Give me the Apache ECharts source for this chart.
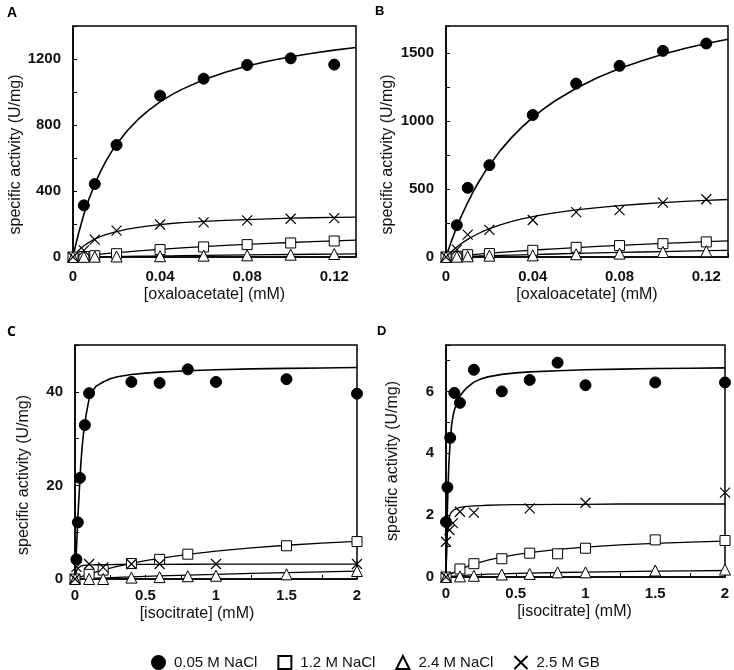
<!DOCTYPE html>
<html><head><meta charset="utf-8">
<script src="https://cdn.jsdelivr.net/npm/echarts@6/dist/echarts.min.js"></script>
<style>html,body{margin:0;padding:0;background:#fff}#c{width:734px;height:670px}</style>
</head><body><div id="c"></div>
<script>
// ---------- series names ----------
const seriesNames = ['0.05 M NaCl', '1.2 M NaCl', '2.4 M NaCl', '2.5 M GB'];

// ---------- Panel A (oxaloacetate) measured points ----------
const A_x = [0, 0.005, 0.01, 0.02, 0.04, 0.06, 0.08, 0.1, 0.12];
const A_circle = [null, 313, 442, 679, 978, 1081, 1164, 1204, 1166];
const A_square = [0, 3, 8, 20, 45, 61, 75, 85, 97];
const A_triangle = [0, 1, 2, 3, 5, 8, 10, 14, 18];
const A_cross = [0, 40, 105, 160, 197, 210, 222, 232, 236];
// Panel A fitted curves
const A_curveX = [0, 0.001, 0.0025, 0.005, 0.0075, 0.01, 0.0125, 0.015, 0.0175, 0.02, 0.025, 0.03, 0.035, 0.04, 0.045, 0.05, 0.06, 0.07, 0.08, 0.09, 0.1, 0.11, 0.12, 0.13];
const A_curveCircle = [0, 60, 141, 259, 357, 442, 514, 578, 634, 683, 767, 835, 892, 940, 981, 1016, 1074, 1120, 1157, 1188, 1214, 1235, 1254, 1270];
const A_curveSquare = [0, 1.5, 3.6, 7.1, 10.5, 13.8, 16.9, 20, 23, 25.9, 31.4, 36.7, 41.6, 46.3, 50.8, 55, 62.9, 70, 76.5, 82.5, 88, 93, 97.8, 102];
const A_curveTriangle = [0, 0.15, 0.4, 0.8, 1.2, 1.6, 2, 2.4, 2.8, 3.2, 4, 4.8, 5.6, 6.4, 7.2, 8, 9.5, 11, 12.5, 14, 15.3, 16.7, 18, 19.5];
const A_curveCross = [0, 17, 39, 68, 90, 108, 123, 135, 145, 154, 169, 180, 189, 196, 203, 208, 216, 222, 227, 231, 235, 238, 240, 242];

// ---------- Panel B (oxaloacetate) ----------
const B_x = [0, 0.005, 0.01, 0.02, 0.04, 0.06, 0.08, 0.1, 0.12];
const B_circle = [null, 234, 509, 676, 1045, 1276, 1407, 1517, 1571];
const B_square = [0, 5, 17, 25, 49, 71, 84, 98, 111];
const B_triangle = [0, 2, 5, 10, 12, 20, 25, 37, 42];
const B_cross = [0, 54, 165, 200, 272, 330, 345, 400, 425];
const B_curveX = [0, 0.001, 0.0025, 0.005, 0.0075, 0.01, 0.0125, 0.015, 0.0175, 0.02, 0.025, 0.03, 0.035, 0.04, 0.045, 0.05, 0.06, 0.07, 0.08, 0.09, 0.1, 0.11, 0.12, 0.13];
const B_curveCircle = [0, 48, 117, 222, 316, 401, 479, 550, 616, 676, 783, 875, 956, 1027, 1090, 1146, 1242, 1321, 1387, 1443, 1492, 1534, 1571, 1603];
const B_curveSquare = [0, 1.5, 3.7, 7.3, 10.8, 14.3, 17.6, 20.9, 24.1, 27.3, 33.3, 39.1, 44.7, 50, 55.1, 60, 69.2, 77.8, 85.7, 93.1, 100, 106.5, 112.5, 118.2];
const B_curveTriangle = [0, 0.5, 1.2, 2.5, 3.7, 4.9, 6.1, 7.2, 8.4, 9.5, 11.8, 14, 16.1, 18.2, 20.2, 22.2, 26.1, 29.8, 33.3, 36.7, 40, 43.1, 46.2, 49.1];
const B_curveCross = [0, 17, 40, 74, 104, 130, 153, 173, 192, 208, 236, 260, 280, 297, 312, 325, 347, 364, 378, 390, 400, 409, 416, 423];

// ---------- Panel C (isocitrate) ----------
const C_circleX = [0.01, 0.02, 0.035, 0.07, 0.1, 0.4, 0.6, 0.8, 1, 1.5, 2];
const C_circle = [4.2, 12.1, 21.6, 32.9, 39.7, 42.1, 41.9, 44.8, 42.1, 42.7, 39.6];
const C_squareX = [0, 0.1, 0.2, 0.4, 0.6, 0.8, 1.5, 2];
const C_square = [0, 1.0, 1.9, 3.3, 4.2, 5.3, 7.1, 8.0];
const C_triangleX = [0, 0.1, 0.2, 0.4, 0.6, 0.8, 1, 1.5, 2];
const C_triangle = [0, 0, 0, 0.3, 0.4, 0.6, 0.7, 1.0, 1.7];
const C_crossX = [0, 0.01, 0.1, 0.2, 0.4, 0.6, 1, 2];
const C_cross = [0, 2.6, 3.2, 2.5, 3.2, 3.2, 3.2, 3.2];
const C_curveX = [0, 0.005, 0.01, 0.015, 0.02, 0.03, 0.04, 0.05, 0.06, 0.07, 0.08, 0.1, 0.125, 0.15, 0.2, 0.25, 0.3, 0.4, 0.5, 0.6, 0.8, 1, 1.25, 1.5, 1.75, 2];
const C_curveCircle = [0, 3, 6, 9.5, 13, 18.5, 24, 28, 31, 33.3, 35.3, 38.5, 40.2, 41.2, 42.1, 42.8, 43.2, 43.7, 44, 44.2, 44.5, 44.7, 44.9, 45, 45.1, 45.2];
const C_curveSquare = [0, 0.06, 0.11, 0.17, 0.22, 0.33, 0.44, 0.54, 0.65, 0.75, 0.85, 1.04, 1.28, 1.5, 1.92, 2.32, 2.68, 3.33, 3.91, 4.41, 5.26, 5.95, 6.65, 7.21, 7.68, 8.06];
const C_curveTriangle = [0, 0.006, 0.012, 0.019, 0.025, 0.037, 0.05, 0.062, 0.074, 0.086, 0.098, 0.12, 0.15, 0.18, 0.24, 0.29, 0.35, 0.45, 0.56, 0.65, 0.83, 1.0, 1.19, 1.36, 1.52, 1.67];
const C_curveCross = [0, 1.0, 1.6, 2.0, 2.3, 2.6, 2.75, 2.85, 2.9, 2.95, 2.98, 3.0, 3.03, 3.05, 3.08, 3.09, 3.1, 3.12, 3.13, 3.14, 3.15, 3.16, 3.17, 3.17, 3.18, 3.18];

// ---------- Panel D (isocitrate) ----------
const D_circleX = [0, 0.01, 0.03, 0.06, 0.1, 0.2, 0.4, 0.6, 0.8, 1, 1.5, 2];
const D_circle = [1.78, 2.9, 4.5, 5.95, 5.63, 6.7, 6.0, 6.37, 6.93, 6.2, 6.29, 6.29];
const D_squareX = [0, 0.1, 0.2, 0.4, 0.6, 0.8, 1, 1.5, 2];
const D_square = [0, 0.26, 0.43, 0.59, 0.77, 0.75, 0.93, 1.2, 1.18];
const D_triangleX = [0, 0.1, 0.2, 0.4, 0.6, 0.8, 1, 1.5, 2];
const D_triangle = [0, 0.02, 0.04, 0.08, 0.1, 0.15, 0.15, 0.21, 0.24];
const D_crossX = [0, 0, 0.025, 0.05, 0.1, 0.2, 0.6, 1, 2];
const D_cross = [0, 1.14, 1.52, 1.74, 2.11, 2.08, 2.22, 2.4, 2.73];
const D_curveX = [0, 0.005, 0.01, 0.015, 0.02, 0.03, 0.04, 0.05, 0.06, 0.08, 0.1, 0.125, 0.15, 0.2, 0.25, 0.3, 0.4, 0.5, 0.6, 0.8, 1, 1.25, 1.5, 1.75, 2];
const D_curveCircle = [0, 1.2, 2.2, 2.95, 3.6, 4.4, 4.9, 5.2, 5.4, 5.65, 5.85, 6.0, 6.12, 6.3, 6.4, 6.47, 6.55, 6.6, 6.63, 6.67, 6.7, 6.72, 6.74, 6.75, 6.76];
const D_curveSquare = [0, 0.014, 0.028, 0.042, 0.056, 0.082, 0.107, 0.132, 0.155, 0.2, 0.242, 0.29, 0.335, 0.414, 0.483, 0.544, 0.644, 0.725, 0.791, 0.892, 0.967, 1.036, 1.088, 1.128, 1.16];
const D_curveTriangle = [0, 0.003, 0.005, 0.008, 0.01, 0.015, 0.02, 0.025, 0.03, 0.038, 0.045, 0.052, 0.06, 0.07, 0.08, 0.09, 0.1, 0.115, 0.125, 0.145, 0.16, 0.175, 0.19, 0.2, 0.21];
const D_curveCross = [0, 0.9, 1.4, 1.65, 1.85, 2.03, 2.1, 2.15, 2.18, 2.22, 2.25, 2.27, 2.28, 2.3, 2.31, 2.32, 2.33, 2.34, 2.34, 2.35, 2.35, 2.36, 2.36, 2.36, 2.36];

// ---------- axis tick labels ----------
const A_yLabels = [0, 400, 800, 1200];
const B_yLabels = [0, 500, 1000, 1500];
const C_yLabels = [0, 20, 40];
const D_yLabels = [0, 2, 4, 6];
const oxaloXLabels = [0, 0.04, 0.08, 0.12];
const isoXLabels = [0, 0.5, 1, 1.5, 2];

const xTitleOxalo = '[oxaloacetate] (mM)';
const xTitleIso = '[isocitrate] (mM)';
const yTitle = 'specific activity (U/mg)';

// ---------- build ----------
const zip = (xs, ys) => xs.map((x, i) => [x, ys[i]]).filter(p => p[1] !== null);
const inList = (list) => (v) => list.some(l => Math.abs(l - v) < 1e-9) ? String(v) : '';

const crossPath = 'path://M0,0L10,10M10,0L0,10';
const markerDefs = [
  { symbol: 'circle', size: 11, itemStyle: { color: '#000', borderColor: '#000', borderWidth: 1, opacity: 1 } },
  { symbol: 'rect', size: 10, itemStyle: { color: '#fff', borderColor: '#000', borderWidth: 1, opacity: 1 } },
  { symbol: 'triangle', size: 11, itemStyle: { color: '#fff', borderColor: '#000', borderWidth: 1, opacity: 1 } },
  { symbol: crossPath, size: 10, itemStyle: { color: 'rgba(0,0,0,0)', borderColor: '#000', borderWidth: 1.2, opacity: 1 } }
];

const panels = [
  { grid: { left: 73, top: 26, width: 283, height: 231 }, xmax: 0.13, xint: 0.02, xl: oxaloXLabels, ymax: 1400, yint: 200, yl: A_yLabels,
    xTitle: xTitleOxalo, xGap: 30, xPad: [0,0,0,0], xMargin: 12, yGap: 39, yPad: [0, 26, 0, 0],
    pts: [[A_x, A_circle], [A_x, A_square], [A_x, A_triangle], [A_x, A_cross]],
    cx: A_curveX, curves: [A_curveCircle, A_curveSquare, A_curveTriangle, A_curveCross] },
  { grid: { left: 446, top: 26, width: 282, height: 231 }, xmax: 0.13, xint: 0.02, xl: oxaloXLabels, ymax: 1700, yint: 250, yl: B_yLabels,
    xTitle: xTitleOxalo, xGap: 30, xPad: [0,0,0,0], xMargin: 12, yGap: 50, yPad: [0, 26, 0, 0],
    pts: [[B_x, B_circle], [B_x, B_square], [B_x, B_triangle], [B_x, B_cross]],
    cx: B_curveX, curves: [B_curveCircle, B_curveSquare, B_curveTriangle, B_curveCross] },
  { grid: { left: 75, top: 345, width: 282, height: 234 }, xmax: 2, xint: 0.25, xl: isoXLabels, ymax: 50, yint: 10, yl: C_yLabels,
    xTitle: xTitleIso, xGap: 27, xPad: [0, 38, 0, 0], xMargin: 9, yGap: 43, yPad: [0, 26, 0, 0],
    pts: [[C_circleX, C_circle], [C_squareX, C_square], [C_triangleX, C_triangle], [C_crossX, C_cross]],
    cx: C_curveX, curves: [C_curveCircle, C_curveSquare, C_curveTriangle, C_curveCross] },
  { grid: { left: 446, top: 345, width: 279, height: 232 }, xmax: 2, xint: 0.25, xl: isoXLabels, ymax: 7.5, yint: 1, yl: D_yLabels,
    xTitle: xTitleIso, xGap: 27, xPad: [0, 22, 0, 0], xMargin: 9, yGap: 45, yPad: [0, 0, 0, 0],
    pts: [[D_circleX, D_circle], [D_squareX, D_square], [D_triangleX, D_triangle], [D_crossX, D_cross]],
    cx: D_curveX, curves: [D_curveCircle, D_curveSquare, D_curveTriangle, D_curveCross] }
];

const FONT = 'Liberation Sans, Arial, sans-serif';
const grids = [], xAxes = [], yAxes = [], series = [];
panels.forEach((p, i) => {
  grids.push(Object.assign({ show: true, borderColor: '#000', borderWidth: 1.5, backgroundColor: 'transparent' }, p.grid));
  xAxes.push({
    type: 'value', gridIndex: i, min: 0, max: p.xmax, interval: p.xint,
    name: p.xTitle, nameLocation: 'middle', nameGap: p.xGap,
    nameTextStyle: { fontFamily: FONT, fontSize: 16, color: '#111', padding: p.xPad },
    axisLine: { show: true, onZero: false, lineStyle: { color: '#000', width: 1.5 } },
    axisTick: { show: true, inside: true, length: 4, lineStyle: { color: '#000', width: 1 } },
    axisLabel: { formatter: inList(p.xl), fontFamily: FONT, fontWeight: 'bold', fontSize: 15, color: '#111', margin: p.xMargin, showMaxLabel: true },
    splitLine: { show: false }
  });
  yAxes.push({
    type: 'value', gridIndex: i, min: 0, max: p.ymax, interval: p.yint,
    name: yTitle, nameLocation: 'middle', nameGap: p.yGap, nameRotate: 90,
    nameTextStyle: { fontFamily: FONT, fontSize: 16, color: '#111', padding: p.yPad },
    axisLine: { show: true, onZero: false, lineStyle: { color: '#000', width: 1.5 } },
    axisTick: { show: true, inside: true, length: 4, lineStyle: { color: '#000', width: 1 } },
    axisLabel: { formatter: inList(p.yl), fontFamily: FONT, fontWeight: 'bold', fontSize: 15, color: '#111', margin: 12 },
    splitLine: { show: false }
  });
  p.curves.forEach((c, k) => {
    series.push({
      type: 'line', name: 'fit' + i + k, xAxisIndex: i, yAxisIndex: i,
      data: zip(p.cx, c), showSymbol: false, smooth: false,
      lineStyle: { color: '#000', width: k === 0 ? 1.6 : 1.3 }, z: 2, silent: true
    });
  });
  p.pts.forEach((pt, k) => {
    const m = markerDefs[k];
    series.push({
      type: 'scatter', name: seriesNames[k], xAxisIndex: i, yAxisIndex: i,
      data: zip(pt[0], pt[1]), symbol: m.symbol, symbolSize: m.size,
      itemStyle: m.itemStyle, z: 3 + k, clip: false
    });
  });
});

const chart = echarts.init(document.getElementById('c'), null, { renderer: 'canvas' });
chart.setOption({
  animation: false,
  backgroundColor: '#fff',
  title: [
    { text: 'A', left: 2, top: 1, textStyle: { fontFamily: FONT, fontWeight: 'bold', fontSize: 14, color: '#000' } },
    { text: 'B', left: 370, top: 0, textStyle: { fontFamily: FONT, fontWeight: 'bold', fontSize: 13, color: '#000' } },
    { text: 'C', left: 2, top: 320, textStyle: { fontFamily: 'Open Sans, sans-serif', fontWeight: 'bold', fontSize: 14, color: '#000' } },
    { text: 'D', left: 372, top: 320, textStyle: { fontFamily: FONT, fontWeight: 'bold', fontSize: 13, color: '#000' } }
  ],
  legend: {
    data: seriesNames, selectedMode: false, left: 146, top: 650, orient: 'horizontal',
    itemWidth: 13, itemHeight: 13, itemGap: 20,
    textStyle: { fontFamily: FONT, fontSize: 15, color: '#111', padding: [0, 0, 0, 4] }
  },
  grid: grids, xAxis: xAxes, yAxis: yAxes, series: series
});
</script></body></html>
